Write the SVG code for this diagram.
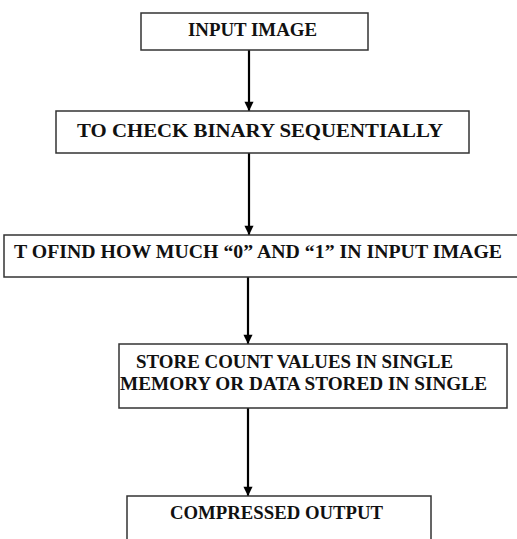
<svg xmlns="http://www.w3.org/2000/svg" width="517" height="539" viewBox="0 0 517 539">
  <style>
    .box { fill: #ffffff; stroke: #333333; stroke-width: 1.5; }
    .lbl { font-family: "Liberation Serif", "Times New Roman", serif; font-weight: bold; font-size: 19px; fill: #111111; }
    .flow { stroke: #000000; stroke-width: 2.2; fill: none; marker-end: url(#head); }
  </style>
  <defs>
    <marker id="head" viewBox="0 0 10 12" refX="10" refY="5" markerWidth="5" markerHeight="5" orient="auto" markerUnits="strokeWidth">
      <path d="M0,0 L10,5 L0,10 Z" fill="#000000"/>
    </marker>
  </defs>
  <rect width="517" height="539" fill="#ffffff"/>

  <!-- downward flow between the steps -->
  <g id="connectors">
    <line class="flow" x1="249" y1="50" x2="249" y2="111"/>
    <line class="flow" x1="249" y1="153" x2="249" y2="235"/>
    <line class="flow" x1="248" y1="277" x2="248" y2="344"/>
    <line class="flow" x1="248" y1="408" x2="248" y2="496"/>
  </g>

  <g id="input-image">
    <rect class="box" x="141" y="13" width="227" height="37"/>
    <text class="lbl" x="188" y="36" textLength="129" lengthAdjust="spacingAndGlyphs">INPUT  IMAGE</text>
  </g>

  <g id="check-binary">
    <rect class="box" x="56" y="111" width="413" height="42"/>
    <text class="lbl" x="77" y="137" textLength="366" lengthAdjust="spacingAndGlyphs">TO CHECK BINARY SEQUENTIALLY</text>
  </g>

  <g id="count-bits">
    <rect class="box" x="4" y="235" width="525" height="42"/>
    <text class="lbl" x="14" y="258" textLength="488" lengthAdjust="spacingAndGlyphs">T OFIND HOW MUCH “0” AND “1” IN INPUT  IMAGE</text>
  </g>

  <g id="store-values">
    <rect class="box" x="119" y="344" width="388" height="64"/>
    <text class="lbl" x="136" y="368" textLength="317" lengthAdjust="spacingAndGlyphs">STORE  COUNT VALUES IN SINGLE</text>
    <text class="lbl" x="120" y="390" textLength="367" lengthAdjust="spacingAndGlyphs">MEMORY OR DATA STORED IN SINGLE</text>
  </g>

  <g id="compressed-output">
    <rect class="box" x="127" y="496" width="304" height="60"/>
    <text class="lbl" x="170" y="519" textLength="213" lengthAdjust="spacingAndGlyphs">COMPRESSED OUTPUT</text>
  </g>
</svg>
